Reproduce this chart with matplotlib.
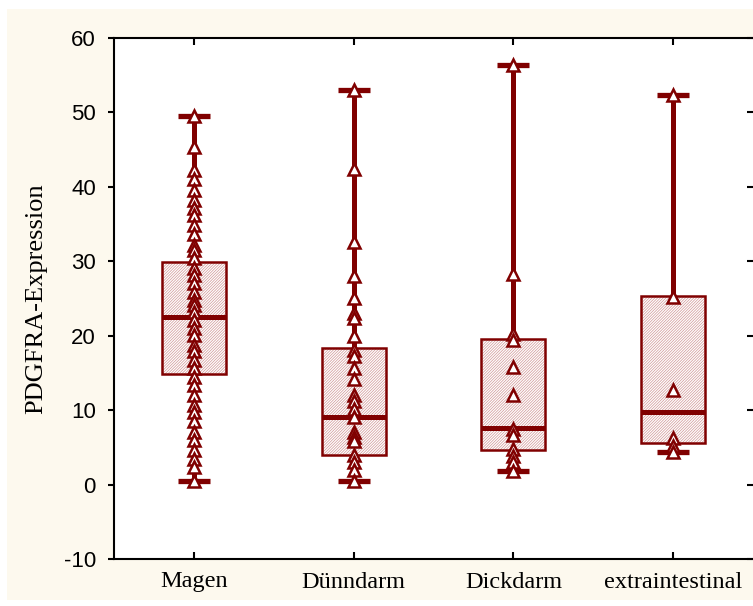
import numpy as np
import matplotlib.pyplot as plt
from matplotlib import rcParams
from matplotlib.patches import Rectangle, PathPatch

rcParams['hatch.linewidth'] = 0.5
rcParams['axes.unicode_minus'] = False

groups = ['Magen', 'Dünndarm', 'Dickdarm', 'extraintestinal']

# box statistics per group
q1 = [14.8, 4.0, 4.7, 5.6]
med = [22.5, 9.1, 7.6, 9.7]
q3 = [29.9, 18.4, 19.5, 25.4]
lo = [0.5, 0.5, 1.8, 4.4]
hi = [49.5, 53.0, 56.4, 52.3]

# single measurements per group
magen = [49.5, 45.3, 42.3, 41.0, 39.6, 38.3, 37.2, 36.2, 34.9, 33.6, 32.2, 31.5,
         30.5, 29.1, 28.2, 27.1, 25.9, 24.8, 24.1, 23.2, 22.1, 21.1, 20.1, 18.8,
         17.9, 16.8, 15.7, 14.4, 13.4, 12.1, 10.7, 9.7, 8.5, 7.1, 6.0, 4.7, 3.4,
         2.4, 0.5]
duenndarm = [53.0, 42.4, 32.6, 28.0, 25.1, 23.1, 22.4, 20.0, 18.1, 17.3, 15.6,
             14.2, 12.0, 11.2, 10.1, 9.1, 7.1, 6.4, 5.8, 4.0, 3.0, 2.0, 0.5]
dickdarm = [56.4, 28.3, 20.2, 19.4, 15.8, 12.0, 7.5, 6.6, 4.8, 3.8, 3.0, 1.8]
extra = [52.3, 25.2, 12.7, 6.3, 5.2, 4.4]
points = [magen, duenndarm, dickdarm, extra]

red = '#800000'
hatchred = '#d09696'

fig = plt.figure(figsize=(7.53, 6.06), dpi=100)
fig.patches.append(Rectangle((7/753, 6/606), 746/753, 591/606,
                             transform=fig.transFigure, facecolor='#fdf9ee',
                             edgecolor='none', zorder=-10))
ax = fig.add_axes([114/753, 47/606, 639/753, 521/606])

stats = [dict(q1=a, med=m, q3=b, whislo=l, whishi=h, fliers=[])
         for a, m, b, l, h in zip(q1, med, q3, lo, hi)]
pos = np.arange(1, len(groups)+1)
bp = ax.bxp(stats, positions=pos, widths=0.4, capwidths=0.2, patch_artist=True,
            showfliers=False,
            boxprops=dict(facecolor='white', edgecolor=hatchred, hatch='/'*12, linewidth=0),
            medianprops=dict(color=red, linewidth=3.6, solid_capstyle='butt', zorder=4),
            whiskerprops=dict(color=red, linewidth=3.6, solid_capstyle='butt'),
            capprops=dict(color=red, linewidth=3.8, solid_capstyle='butt'))
for b in bp['boxes']:
    ax.add_patch(PathPatch(b.get_path(), fill=False, edgecolor=red, linewidth=1.8, zorder=3))

for x, vals in zip(pos, points):
    ax.plot([x]*len(vals), vals, linestyle='none', marker='^', markersize=8,
            markerfacecolor='white', markeredgecolor=red, markeredgewidth=1.8, zorder=5)

ax.set_xlim(0.5, 4.5)
ax.set_ylim(-10, 60)
ax.set_yticks(range(-10, 61, 10))
ax.set_xticks(pos)
ax.set_xticklabels(groups, fontfamily='Liberation Serif', fontsize=17.5)
for t in ax.get_yticklabels():
    t.set_fontfamily('Liberation Sans')
    t.set_fontsize(16)
ax.set_ylabel('PDGFRA-Expression', fontfamily='Liberation Serif', fontsize=19, labelpad=12)

for s in ['left', 'bottom', 'top']:
    ax.spines[s].set_linewidth(1.5)
ax.spines['right'].set_visible(False)
ax.tick_params(axis='y', direction='out', length=4, width=1.5, pad=9)
ax.tick_params(axis='x', top=True, bottom=True, direction='in', length=5, width=1.5, pad=9)

# inward ticks along the right edge
rt = ax.twinx()
rt.set_ylim(ax.get_ylim())
rt.set_yticks(ax.get_yticks())
rt.tick_params(axis='y', direction='in', length=4, width=1.5, labelright=False)
for s in rt.spines.values():
    s.set_visible(False)

fig.savefig('out.png', dpi=100)
